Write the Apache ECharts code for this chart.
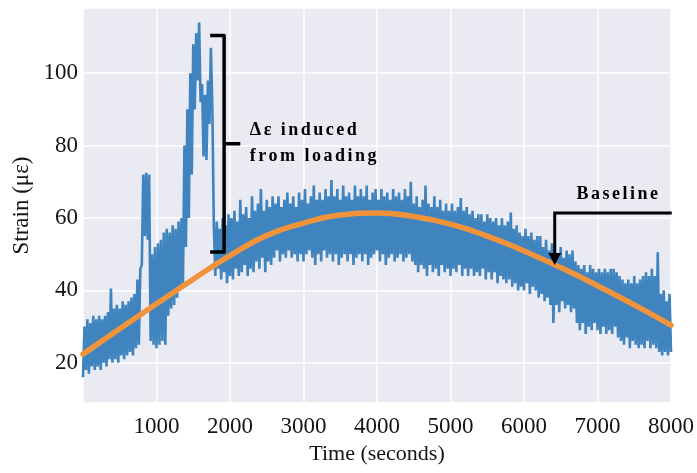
<!DOCTYPE html>
<html>
<head>
<meta charset="utf-8">
<script src="https://cdn.jsdelivr.net/npm/echarts@6/dist/echarts.min.js"></script>
<style>
  html, body { margin: 0; padding: 0; background: #ffffff; }
  #chart { width: 697px; height: 473px; }
</style>
</head>
<body>
<div id="chart"></div>
<script>
// Strain gauge record, one reading every SAMPLE_INTERVAL_S seconds (με).
const SAMPLE_INTERVAL_S = 20;
const strain = [
  16, 30, 18, 32, 17, 31, 19, 33, 18, 32,
  19, 33, 18, 32, 20, 33, 19, 34, 21, 40.5,
  20, 35, 21, 36, 20, 35, 22, 37, 21, 36,
  22, 37, 23, 38, 22, 39, 24, 43, 25, 46,
  47, 72, 55, 72.5, 54, 72, 26, 50, 25, 52,
  24, 53, 25, 54, 26, 56, 25, 57, 33, 56,
  35, 58, 36, 57, 38, 59, 40, 60, 42, 80,
  52, 90, 60, 100, 72, 108, 90, 111, 98, 114,
  92, 97, 77, 94, 76, 98, 86, 107, 90, 58,
  44, 59, 46, 57, 43, 60, 45, 58, 42, 61,
  44, 60, 43, 62, 46, 59, 44, 65, 45, 61,
  47, 63, 44, 60, 46, 66, 45, 62, 48, 64,
  46, 68, 49, 62, 45, 65, 48, 63, 47, 66,
  49, 64, 51, 66, 48, 63, 50, 65, 49, 67,
  51, 64, 49, 66, 50, 63, 48, 67, 50, 65,
  48, 68, 50, 64, 51, 66, 49, 69, 47, 65,
  50, 67, 48, 65, 51, 68, 49, 66, 50, 70.5,
  48, 66, 50, 68, 47, 65, 49, 69, 50, 66,
  48, 67, 50, 65, 47, 69, 49, 66, 50, 68,
  48, 66, 50, 69, 47, 65, 49, 67, 50, 68,
  51, 65, 48, 68, 50, 66, 47, 67, 49, 65,
  50, 68, 48, 66, 49, 67, 50, 65, 48, 68,
  49, 66, 50, 70, 48, 64, 47, 66, 45, 63,
  47, 65, 46, 69, 44, 64, 47, 63, 45, 66,
  46, 63, 44, 65, 47, 62, 45, 64, 46, 62,
  44, 64, 46, 62, 45, 63, 47, 65.5, 44, 62,
  46, 63, 44, 61, 46, 62, 44, 60, 45, 61,
  44, 61, 46, 59, 43, 61, 45, 60, 43, 59,
  45, 60, 42, 58, 44, 60, 43, 58, 42, 59,
  43, 61.5, 41, 57, 42, 58, 40, 56, 41, 55,
  40, 57, 42, 55, 39, 56, 41, 54, 40, 55,
  38, 55, 39, 52, 37, 54, 38, 51, 36, 53,
  31, 51, 36, 50, 34, 52, 37, 49, 35, 51,
  36, 50, 34, 51, 35, 48, 31, 47, 29, 46,
  31, 47, 28, 45, 30, 47, 29, 46, 31, 45,
  29, 46, 28, 45, 30, 46, 28, 45, 29, 46,
  28, 46, 30, 45, 27, 44, 26, 43, 25, 42,
  27, 43, 24, 42, 26, 44, 25, 42, 24, 43,
  25, 44, 24, 45, 26, 44, 24, 46, 25, 44,
  24, 50.5, 23, 39, 22, 40, 23, 37, 22, 39,
  23
];

// Fitted drift baseline.
const baselineTime = [0, 500, 1000, 1500, 2000, 2500, 3000, 3500, 4000,
                      4500, 5000, 5500, 6000, 6500, 7000, 7500, 8000];
const baselineStrain = [22.4, 29.4, 36.3, 43.1, 49.6, 55.2, 58.6, 60.8, 61.4,
                        60.4, 58.3, 55.0, 50.9, 46.3, 41.3, 36.0, 30.4];

// Tick labels.
const X_TICKS = [1000, 2000, 3000, 4000, 5000, 6000, 7000, 8000];
const Y_TICKS = [20, 40, 60, 80, 100];

// Annotation anchors, in data units (seconds, με).
const loadBracket = { t: 1920, tHook: 1730, tTick: 2140, top: 110.4, bottom: 50.6, mid: 80.5 };
const loadLabel = { t: 2270, lines: ['Δε induced', 'from loading'], v: [84.3, 76.9] };
const baselineArrow = { tStart: 8010, t: 6418, v: 61.4, tipV: 47.0 };
const baselineLabel = { t: 6713, v: 66.4, text: 'Baseline' };

// Bold annotation lettering is drawn with a little tracking.
(function () {
  const proto = CanvasRenderingContext2D.prototype;
  const nativeFillText = proto.fillText;
  proto.fillText = function () {
    if ('letterSpacing' in this && /bold|700/.test(this.font)) {
      const prev = this.letterSpacing;
      this.letterSpacing = '2.5px';
      nativeFillText.apply(this, arguments);
      this.letterSpacing = prev;
    } else {
      nativeFillText.apply(this, arguments);
    }
  };
})();

const SERIF = '"Liberation Serif", "Times New Roman", serif';
const INK = '#141414';

const strainPoints = strain.map((v, i) => [i * SAMPLE_INTERVAL_S, v]);
const baselinePoints = baselineTime.map((t, i) => [t, baselineStrain[i]]);

const chart = echarts.init(document.getElementById('chart'), null, { renderer: 'canvas' });

function renderAnnotations(params, api) {
  const p = (t, v) => api.coord([t, v]);
  const b = loadBracket;
  const lineStyle = { stroke: '#000', lineWidth: 3.5, fill: null, lineJoin: 'round', lineCap: 'butt' };
  const hookTop = p(b.tHook, b.top), top = p(b.t, b.top);
  const bot = p(b.t, b.bottom), hookBot = p(b.tHook, b.bottom);
  const mid = p(b.t, b.mid), tick = p(b.tTick, b.mid);

  const a = baselineArrow;
  const aStart = p(a.tStart, a.v), aCorner = p(a.t, a.v), aTip = p(a.t, a.tipV);
  const headLen = 12, headHalf = 6.5;

  const children = [
    { type: 'polyline', shape: { points: [hookTop, top, bot, hookBot] }, style: lineStyle },
    { type: 'line', shape: { x1: mid[0], y1: mid[1], x2: tick[0], y2: tick[1] }, style: lineStyle },
    { type: 'polyline', shape: { points: [aStart, aCorner, [aTip[0], aTip[1] - headLen + 1]] },
      style: Object.assign({}, lineStyle, { lineWidth: 3, lineJoin: 'miter' }) },
    { type: 'polygon', shape: { points: [[aTip[0] - headHalf, aTip[1] - headLen], [aTip[0] + headHalf, aTip[1] - headLen], aTip] },
      style: { fill: '#000' } }
  ];
  loadLabel.lines.forEach((txt, i) => {
    const pos = p(loadLabel.t, loadLabel.v[i]);
    children.push({ type: 'text', x: pos[0], y: pos[1],
      style: { text: txt, font: 'bold 18px ' + SERIF, fill: '#000', textAlign: 'left', textVerticalAlign: 'middle' } });
  });
  const bl = p(baselineLabel.t, baselineLabel.v);
  children.push({ type: 'text', x: bl[0], y: bl[1],
    style: { text: baselineLabel.text, font: 'bold 18px ' + SERIF, fill: '#000', textAlign: 'left', textVerticalAlign: 'middle' } });
  return { type: 'group', children: children };
}

chart.setOption({
  animation: false,
  backgroundColor: '#ffffff',
  grid: { left: 83, right: 26, top: 8, bottom: 70, show: true, backgroundColor: '#EAEAF2', borderWidth: 0 },
  xAxis: {
    type: 'value',
    min: 0, max: 8000, interval: 1000,
    name: 'Time (seconds)', nameLocation: 'middle', nameGap: 40,
    nameTextStyle: { fontFamily: SERIF, fontSize: 22, color: INK },
    axisLine: { show: false }, axisTick: { show: false },
    axisLabel: {
      margin: 12, fontFamily: SERIF, fontSize: 23, color: INK,
      formatter: v => (X_TICKS.indexOf(Math.round(v)) >= 0 ? String(Math.round(v)) : '')
    },
    splitLine: { show: true, lineStyle: { color: '#ffffff', width: 1.5 } }
  },
  yAxis: {
    type: 'value',
    min: 8.9, max: 118, splitNumber: 5,
    name: 'Strain (με)', nameLocation: 'middle', nameGap: 50, nameMoveOverlap: false,
    nameTextStyle: { fontFamily: SERIF, fontSize: 23, color: INK },
    axisLine: { show: false }, axisTick: { show: false },
    axisLabel: {
      margin: 5, fontFamily: SERIF, fontSize: 23, color: INK,
      formatter: v => (Y_TICKS.indexOf(Math.round(v)) >= 0 && Math.abs(v - Math.round(v)) < 1e-6 ? String(Math.round(v)) : '')
    },
    splitLine: { show: true, lineStyle: { color: '#ffffff', width: 1.5 } }
  },
  series: [
    {
      name: 'Strain', type: 'line', data: strainPoints,
      showSymbol: false, symbol: 'none', sampling: null,
      lineStyle: { color: '#3F84BF', width: 2.6, join: 'bevel' },
      z: 2
    },
    {
      name: 'Baseline', type: 'line', data: baselinePoints,
      showSymbol: false, symbol: 'none', smooth: true,
      lineStyle: { color: '#F0933B', width: 5.5, cap: 'round' },
      z: 3
    },
    {
      type: 'custom', silent: true, clip: false, z: 10,
      data: [0],
      renderItem: renderAnnotations
    }
  ]
});
</script>
</body>
</html>
